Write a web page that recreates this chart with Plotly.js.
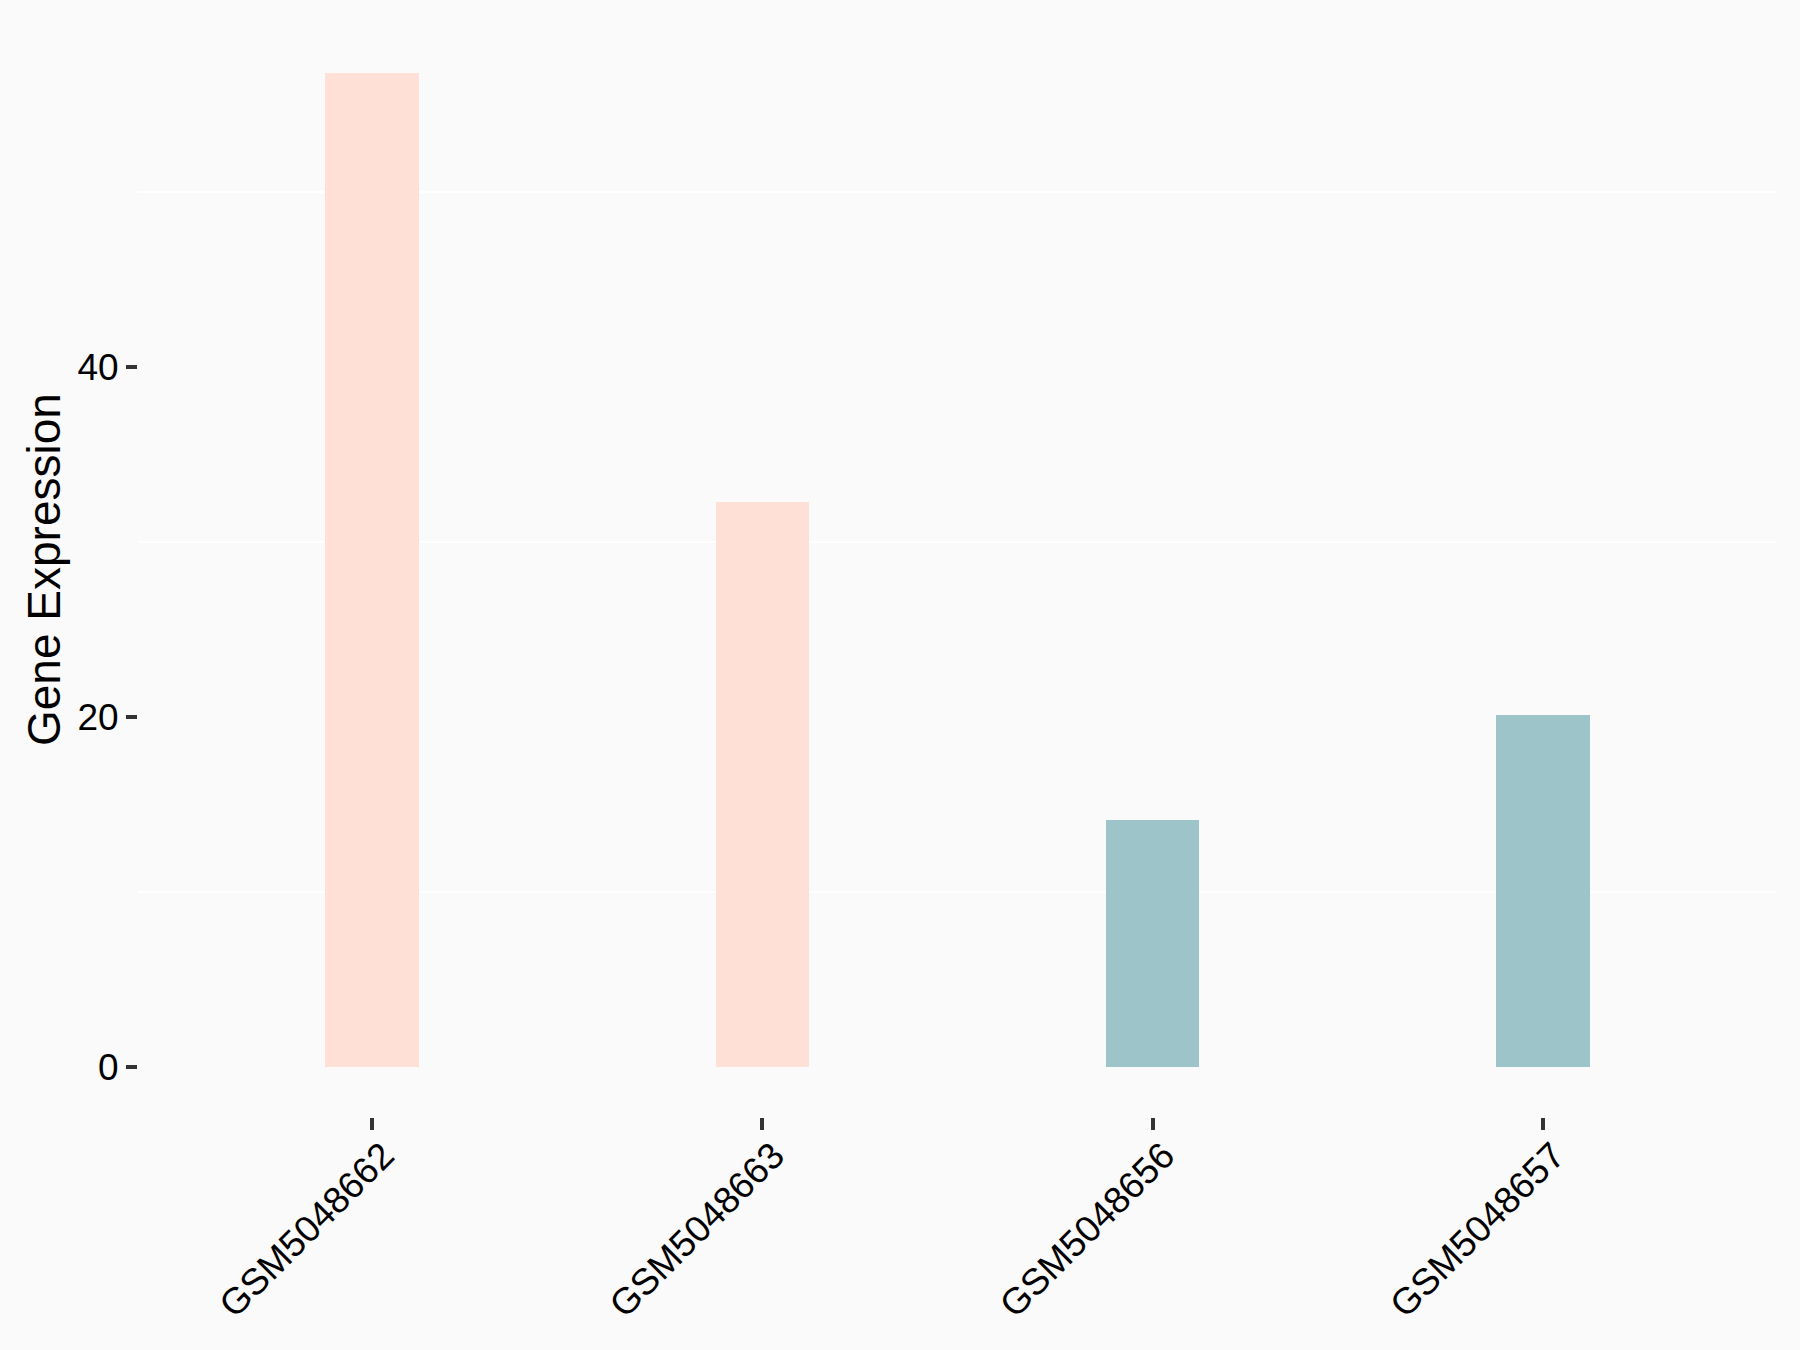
<!DOCTYPE html>
<html>
<head>
<meta charset="utf-8">
<script src="https://cdn.plot.ly/plotly-3.0.1.min.js"></script>
<style>
html, body { margin: 0; padding: 0; background: #FAFAFA; }
#chart { width: 1800px; height: 1350px; }
</style>
</head>
<body>
<div id="chart"></div>
<script>
const samples = ['GSM5048662', 'GSM5048663', 'GSM5048656', 'GSM5048657'];
const expression = [56.8, 32.3, 14.1, 20.1];
const groups = ['group1', 'group1', 'group2', 'group2'];
const groupColors = { group1: '#FFE0D6', group2: '#9DC4C8' };
const yTicks = [0, 20, 40];

const trace = {
  type: 'bar',
  x: samples,
  y: expression,
  width: 0.24,
  marker: { color: groups.map(g => groupColors[g]), line: { width: 0 } },
  hoverinfo: 'x+y',
  showlegend: false
};

const W = 1800, H = 1350;
const m = { l: 138, r: 23, t: 23, b: 233 };
const plotW = W - m.l - m.r;

const layout = {
  width: W, height: H,
  margin: m,
  paper_bgcolor: '#FAFAFA',
  plot_bgcolor: '#FAFAFA',
  font: { family: 'Liberation Sans, Arial, sans-serif', color: '#000000' },
  xaxis: {
    type: 'category',
    range: [-0.6, samples.length - 0.4],
    showgrid: false,
    zeroline: false,
    showline: false,
    ticks: 'outside',
    ticklen: 12,
    tickwidth: 4,
    tickcolor: '#333333',
    tickangle: -45,
    ticklabelshift: 11,
    ticklabelstandoff: -11,
    tickfont: { size: 37, color: '#000000', family: 'Liberation Sans, Arial, sans-serif' },
    automargin: false
  },
  yaxis: {
    range: [-2.84, 59.64],
    tickvals: yTicks,
    ticktext: yTicks.map(String),
    showgrid: false,
    zeroline: false,
    showline: false,
    ticks: 'outside',
    ticklen: 11,
    tickwidth: 4,
    tickcolor: '#333333',
    tickfont: { size: 37, color: '#000000', family: 'Liberation Sans, Arial, sans-serif' },
    minor: { tick0: 10, dtick: 20, showgrid: true, gridcolor: '#FFFFFF', gridwidth: 2, ticks: '' },
    automargin: false
  },
  annotations: [{
    text: 'Gene Expression',
    textangle: -90,
    xref: 'paper', yref: 'paper',
    x: (44 - m.l) / plotW, y: 0.5,
    xanchor: 'center', yanchor: 'middle',
    showarrow: false,
    font: { size: 46, color: '#000000', family: 'Liberation Sans, Arial, sans-serif' }
  }],
  bargap: 0
};

Plotly.newPlot('chart', [trace], layout, { displayModeBar: false, staticPlot: true });
</script>
</body>
</html>
